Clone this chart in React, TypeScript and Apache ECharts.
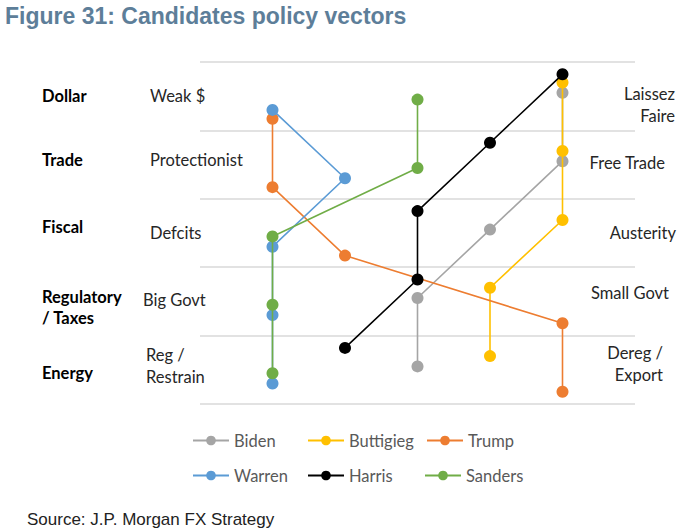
import React, { useEffect, useRef } from "react";
import * as echarts from "echarts";

// Columns: 1..5 across the plot (x axis 0..6); y bands: Energy 0-1, Reg 1-2, Fiscal 2-3, Trade 3-4, Dollar 4-5
const policyAreas = ["Dollar", "Trade", "Fiscal", "Regulatory\n/ Taxes", "Energy"];
const leftLabels = ["Weak $", "Protectionist", "Defcits", "Big Govt", "Reg /\nRestrain"];
const rightLabels = ["Laissez\nFaire", "Free Trade", "Austerity", "Small Govt", "Dereg /\nExport"];

const candidates = ["Biden", "Buttigieg", "Trump", "Warren", "Harris", "Sanders"];
const colors = ["#A5A5A5", "#FFC000", "#ED7D31", "#5B9BD5", "#000000", "#70AD47"];

// x positions (column index) per policy area, Dollar→Energy
const bidenX = [5, 5, 4, 3, 3];
const bidenY = [4.55, 3.55, 2.55, 1.55, 0.55];
const buttigiegX = [5, 5, 5, 4, 4];
const buttigiegY = [4.7, 3.7, 2.69, 1.7, 0.7];
const trumpX = [1, 1, 2, 5, 5];
const trumpY = [4.17, 3.17, 2.17, 1.18, 0.18];
const warrenX = [1, 2, 1, 1, 1];
const warrenY = [4.3, 3.3, 2.3, 1.3, 0.3];
const harrisX = [5, 4, 3, 3, 2];
const harrisY = [4.82, 3.82, 2.82, 1.82, 0.82];
const sandersX = [3, 3, 1, 1, 1];
const sandersY = [4.45, 3.45, 2.45, 1.45, 0.45];

const seriesX = [bidenX, buttigiegX, trumpX, warrenX, harrisX, sandersX];
const seriesY = [bidenY, buttigiegY, trumpY, warrenY, harrisY, sandersY];

const FONT = "Lato, 'Open Sans', sans-serif";

export default function App() {
  const ref = useRef<HTMLDivElement>(null);
  useEffect(() => {
    if (!ref.current) return;
    const chart = echarts.init(ref.current, null, { renderer: "svg" });

    const series = candidates.map((name, i) => ({
      name,
      type: "line" as const,
      data: seriesX[i].map((x, k) => [x, seriesY[i][k]]),
      symbol: "circle",
      symbolSize: 12,
      lineStyle: { color: colors[i], width: 1.6 },
      itemStyle: { color: colors[i] },
      z: 2 + i,
    }));

    const legendPos = [
      [192, 432],
      [307, 432],
      [426, 432],
      [192, 467],
      [307, 467],
      [424, 467],
    ];
    const legends = candidates.map((name, i) => ({
      data: [name],
      left: legendPos[i][0],
      top: legendPos[i][1],
      padding: 0,
      itemWidth: 36,
      itemHeight: 12,
      itemGap: 0,
      textStyle: { fontFamily: FONT, fontSize: 16.5, color: "#595959" },
    }));

    const graphics: any[] = [
      {
        type: "text",
        left: 5,
        top: 4,
        style: {
          text: "Figure 31: Candidates policy vectors",
          font: "bold 23px 'Liberation Sans Narrow', 'Liberation Sans', Arial, sans-serif",
          fill: "#5D7E99",
        },
      },
      {
        type: "text",
        left: 27,
        top: 511,
        style: {
          text: "Source: J.P. Morgan FX Strategy",
          font: "17px 'Liberation Sans', Arial, sans-serif",
          fill: "#222222",
        },
      },
    ];

    const leftCatY = [96, 160, 227, 307, 373];
    const leftLabY = [96, 160, 233, 300, 366];
    const rightY = [105, 163, 233, 293, 364];
    const rightX = [675, 665, 676, 669, 663];
    policyAreas.forEach((t, i) => {
      graphics.push({
        type: "text",
        x: 42,
        y: leftCatY[i],
        style: {
          text: t,
          font: `bold 16.5px ${FONT}`,
          fill: "#000000",
          verticalAlign: "middle",
          lineHeight: 21,
        },
      });
      graphics.push({
        type: "text",
        x: i === 3 ? 143 : i === 4 ? 146 : 150,
        y: leftLabY[i],
        style: {
          text: leftLabels[i],
          font: `16.5px ${FONT}`,
          fill: "#262626",
          verticalAlign: "middle",
          lineHeight: 22,
        },
      });
      graphics.push({
        type: "text",
        x: rightX[i],
        y: rightY[i],
        style: {
          text: rightLabels[i],
          font: `16.5px ${FONT}`,
          fill: "#262626",
          align: "right",
          verticalAlign: "middle",
          lineHeight: 22,
        },
      });
    });

    chart.setOption({
      animation: false,
      backgroundColor: "#ffffff",
      grid: { left: 200, top: 62, width: 435, height: 342, containLabel: false },
      xAxis: {
        type: "value",
        min: 0,
        max: 6,
        show: false,
      },
      yAxis: {
        type: "value",
        min: 0,
        max: 5,
        interval: 1,
        axisLine: { show: false },
        axisTick: { show: false },
        axisLabel: { show: false },
        splitLine: { lineStyle: { color: "#D9D9D9", width: 1.5 } },
      },
      legend: legends,
      series,
      graphic: graphics,
    });
    return () => chart.dispose();
  }, []);
  return (
    <div
      ref={ref}
      style={{ position: "absolute", left: 0, top: 0, width: 700, height: 531 }}
    />
  );
}
